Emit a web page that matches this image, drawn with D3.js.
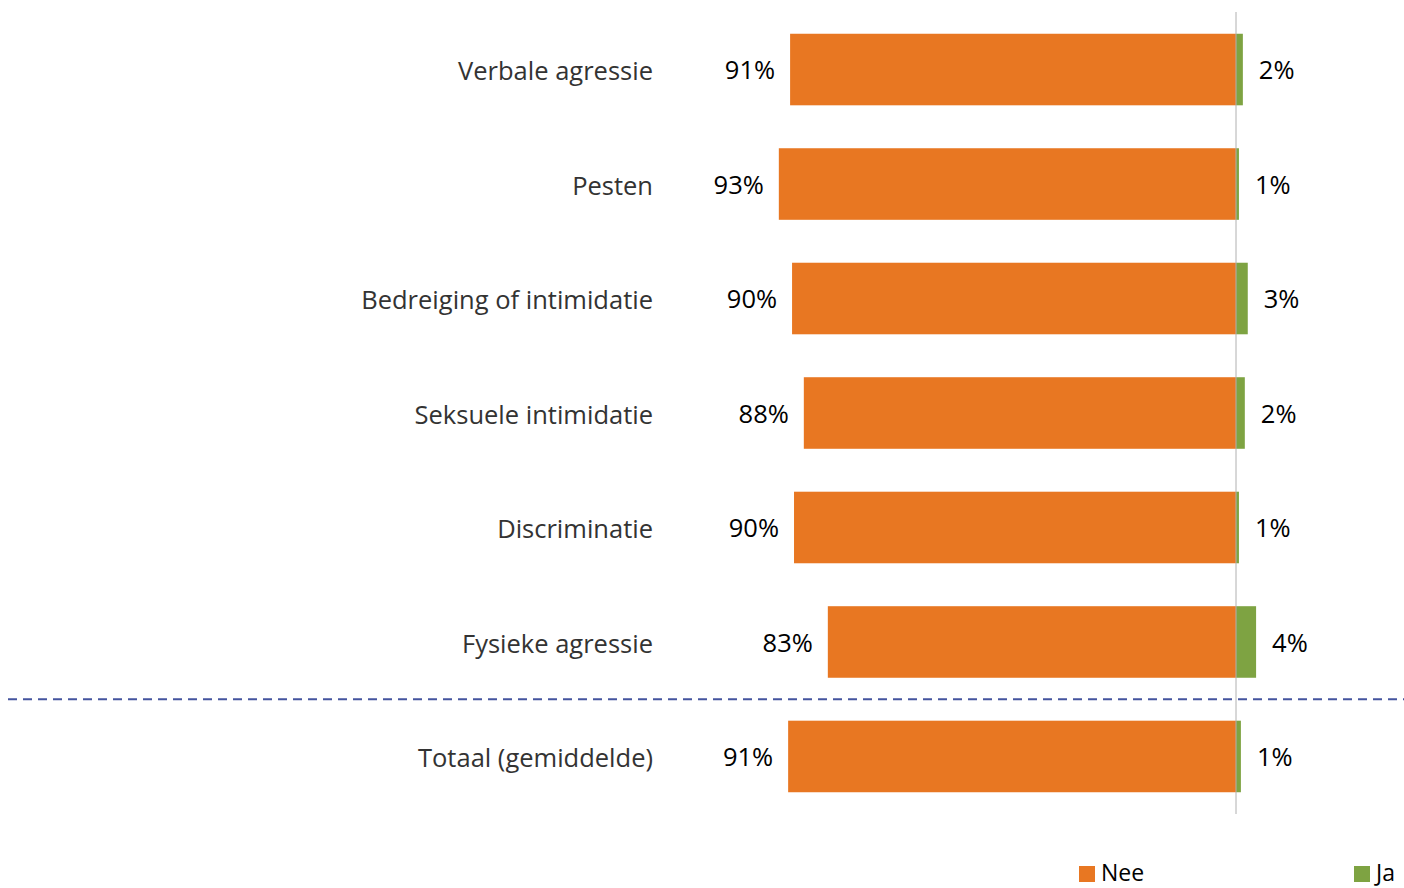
<!DOCTYPE html>
<html><head><meta charset="utf-8">
<script src="https://cdn.jsdelivr.net/npm/d3@7"></script>
<style>html,body{margin:0;padding:0;background:#fff;overflow:hidden}</style>
</head><body>
<svg id="c" width="1404" height="888"></svg>
<script>
const categories = ["Verbale agressie","Pesten","Bedreiging of intimidatie","Seksuele intimidatie","Discriminatie","Fysieke agressie","Totaal (gemiddelde)"];
const neeValues = [91.0, 93.3, 90.6, 88.2, 90.2, 83.3, 91.4];
const neeLabels = ["91%","93%","90%","88%","90%","83%","91%"];
const jaValues = [1.4, 0.6, 2.4, 1.8, 0.6, 4.1, 1.0];
const jaLabels = ["2%","1%","3%","2%","1%","4%","1%"];
const seriesNames = ["Nee","Ja"];
const colors = {Nee:"#E87722", Ja:"#7EA342"};

const svg = d3.select("#c");
const font = "'Open Sans', sans-serif";
const x = d3.scaleLinear().domain([-100, 10]).range([746, 1285]);
const y = d3.scaleBand().domain(categories).range([12, 814]).paddingInner(0.375).paddingOuter(0.19);

const g = svg.append("g");
g.selectAll("rect.nee").data(categories).join("rect")
  .attr("x", (d,i)=>x(-neeValues[i])).attr("width",(d,i)=>x(0)-x(-neeValues[i]))
  .attr("y", d=>y(d)).attr("height", y.bandwidth()).attr("fill", colors.Nee);
g.selectAll("rect.ja").data(categories).join("rect")
  .attr("x", x(0)).attr("width",(d,i)=>x(jaValues[i])-x(0))
  .attr("y", d=>y(d)).attr("height", y.bandwidth()).attr("fill", colors.Ja);
g.append("line").attr("x1",x(0)).attr("x2",x(0)).attr("y1",12).attr("y2",814)
  .attr("stroke","#b0b0b0").attr("stroke-width",1);
g.selectAll("text.cat").data(categories).join("text")
  .attr("x",653).attr("y",d=>y(d)+y.bandwidth()/2+2).attr("dy","0.35em")
  .attr("text-anchor","end").attr("font-family",font).attr("font-size",25.5).attr("fill","#333")
  .text(d=>d);
g.selectAll("text.nee").data(categories).join("text")
  .attr("x",(d,i)=>x(-neeValues[i])-15).attr("y",d=>y(d)+y.bandwidth()/2+1).attr("dy","0.35em")
  .attr("text-anchor","end").attr("font-family",font).attr("font-size",25.5).attr("fill","#000")
  .text((d,i)=>neeLabels[i]);
g.selectAll("text.ja").data(categories).join("text")
  .attr("x",(d,i)=>x(jaValues[i])+16).attr("y",d=>y(d)+y.bandwidth()/2+1).attr("dy","0.35em")
  .attr("text-anchor","start").attr("font-family",font).attr("font-size",25.5).attr("fill","#000")
  .text((d,i)=>jaLabels[i]);
const sepY = (y(categories[5]) + y.bandwidth() + y(categories[6]))/2;
g.append("line").attr("x1",8).attr("x2",1404).attr("y1",sepY).attr("y2",sepY)
  .attr("stroke","#44549e").attr("stroke-width",2).attr("stroke-dasharray","9,6");
const legX = [1079, 1354];
seriesNames.forEach((s,i)=>{
  svg.append("rect").attr("x",legX[i]).attr("y",866).attr("width",16).attr("height",16).attr("fill",colors[s]);
  svg.append("text").attr("x",legX[i]+22).attr("y",881).attr("font-family",font)
    .attr("font-size",23).attr("fill","#000").text(s);
});
</script>
</body></html>
